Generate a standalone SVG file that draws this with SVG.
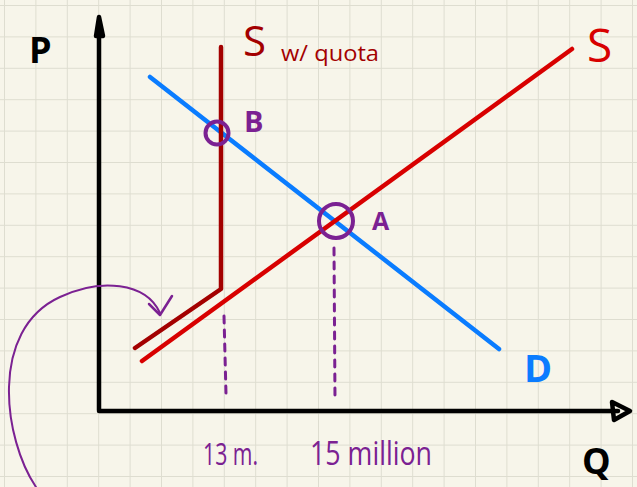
<svg xmlns="http://www.w3.org/2000/svg" width="637" height="487" viewBox="0 0 637 487">
<defs>
<pattern id="grid" x="4" y="5" width="31.4" height="31.4" patternUnits="userSpaceOnUse">
<path d="M0 0H31.4M0 0V31.4" fill="none" stroke="#deddd0" stroke-width="2"/>
</pattern>
</defs>
<style>
.ax{stroke:#000;stroke-width:4.5;fill:none;stroke-linecap:round;stroke-linejoin:round}
.pur{stroke:#7b2192;fill:none;stroke-linecap:round;stroke-linejoin:round}
.t{font-family:"Open Sans","Liberation Sans",sans-serif}
</style>
<rect width="637" height="487" fill="#f7f5ea"/>
<rect width="637" height="487" fill="url(#grid)"/>
<g id="axes">
<path class="ax" d="M99 410V22"/>
<path class="ax" d="M96 36L99 17L103 36Z" fill="#000"/>
<path class="ax" d="M99 411H618"/>
<path class="ax" d="M612 402L630 411L614 420Z" stroke-width="4"/>
<text class="t" x="29" y="63" font-size="36" font-weight="bold" fill="#000">P</text>
<text class="t" x="582" y="474" font-size="36" font-weight="bold" fill="#000">Q</text>
</g>
<g id="connectors">
<path id="demand" d="M150 77L499 349" stroke="#0a7cff" stroke-width="4.5" stroke-linecap="round" fill="none"/>
<path id="supply" d="M142 361L572 49" stroke="#d80000" stroke-width="4.5" stroke-linecap="round" fill="none"/>
<path id="supply-quota" d="M221 47V289L135 348" stroke="#a30000" stroke-width="4.5" stroke-linecap="round" stroke-linejoin="round" fill="none"/>
<path class="pur" d="M224 316L226 394" stroke-width="3" stroke-dasharray="7 7"/>
<path class="pur" d="M334 248L335 400" stroke-width="3" stroke-dasharray="7 7"/>
<path class="pur" d="M36 487C4 440-12 330 60 297C100 278 146 282 160 313" stroke-width="2"/>
<path class="pur" d="M149 304L160 315L172 296" stroke-width="2.5"/>
</g>
<g id="point-B">
<circle class="pur" cx="217" cy="133" r="11.5" stroke-width="4"/>
<text class="t" x="244" y="132" font-size="29" font-weight="bold" fill="#7b2192">B</text>
</g>
<g id="point-A">
<circle class="pur" cx="336" cy="221" r="17" stroke-width="4"/>
<text class="t" x="372" y="230" font-size="25" font-weight="bold" fill="#7b2192">A</text>
</g>
<g id="labels">
<text class="t" x="243" y="56" font-size="42" fill="#a30000">S</text>
<text class="t" x="281" y="61" font-size="22" fill="#a30000" textLength="98" lengthAdjust="spacingAndGlyphs">w/ quota</text>
<text class="t" x="587" y="62" font-size="46" fill="#d80000">S</text>
<text class="t" x="524" y="382" font-size="38" font-weight="bold" fill="#0a7cff">D</text>
<text class="t" x="203" y="465" font-size="31" fill="#7b2192" textLength="55" lengthAdjust="spacingAndGlyphs">13 m.</text>
<text class="t" x="310" y="465" font-size="33" fill="#7b2192" textLength="122" lengthAdjust="spacingAndGlyphs">15 million</text>
</g>
</svg>
